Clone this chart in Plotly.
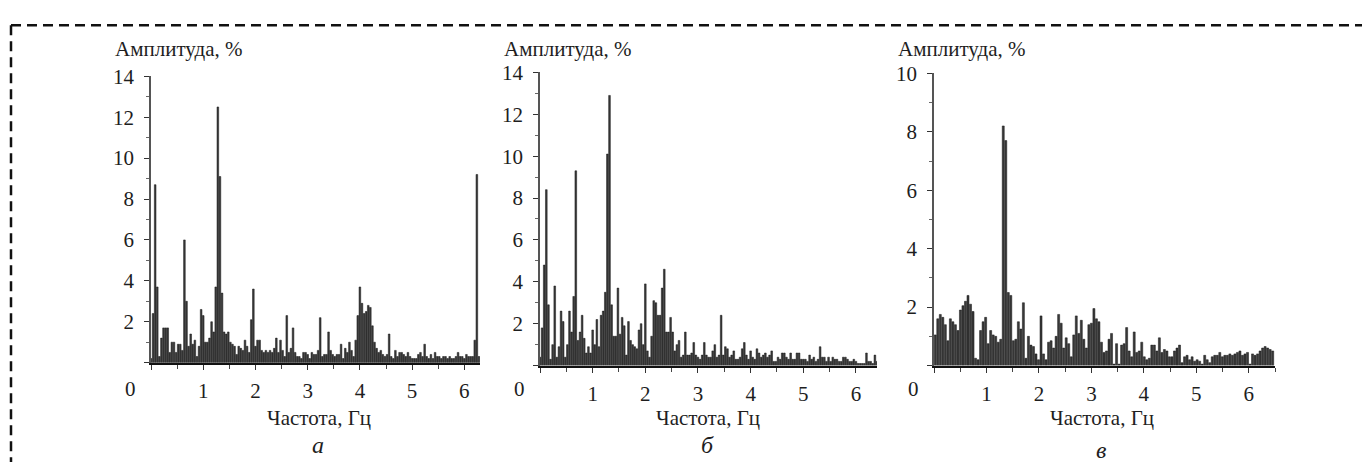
import plotly.graph_objects as go

W, H = 1362, 462

# ---------------- data ----------------
step_a = 0.04
amp_a = [0.2, 2.4, 8.7, 3.7, 0.3, 1.2, 1.7, 1.7, 1.7, 0.5,
         1.0, 1.0, 0.5, 0.9, 0.9, 0.6, 6.0, 3.0, 0.8, 1.4,
         0.9, 1.1, 0.3, 0.8, 2.6, 2.3, 1.0, 1.0, 1.2, 2.0,
         1.5, 3.7, 12.5, 9.1, 3.4, 1.5, 1.4, 1.5, 1.0, 0.9,
         0.8, 0.4, 0.8, 0.7, 0.6, 1.1, 0.8, 0.5, 2.1, 3.6,
         0.8, 1.1, 1.1, 0.6, 0.5, 0.6, 0.5, 0.6, 0.5, 0.7,
         1.2, 0.5, 1.1, 0.6, 0.3, 2.3, 0.5, 0.7, 1.7, 0.5,
         0.3, 0.3, 0.2, 0.5, 0.5, 0.4, 0.2, 0.5, 0.4, 0.4,
         0.6, 2.2, 0.3, 0.4, 0.4, 1.5, 0.6, 0.4, 0.3, 0.4,
         0.4, 0.9, 0.2, 0.7, 0.5, 1.0, 0.6, 0.3, 1.1, 2.3,
         3.7, 2.9, 2.4, 2.5, 2.8, 2.7, 1.8, 1.0, 0.7, 0.5,
         0.6, 0.4, 0.3, 0.4, 1.4, 0.3, 0.2, 0.6, 0.3, 0.5,
         0.5, 0.4, 0.3, 0.5, 0.3, 0.2, 0.2, 0.2, 0.4, 0.5,
         0.3, 0.9, 0.3, 0.2, 0.4, 0.2, 0.5, 0.3, 0.3, 0.2,
         0.3, 0.3, 0.2, 0.3, 0.2, 0.2, 0.3, 0.5, 0.3, 0.3,
         0.2, 0.4, 0.3, 0.3, 0.3, 1.1, 9.2, 0.3]

step_b = 0.04
amp_b = [0.4, 1.8, 4.8, 8.4, 2.9, 0.3, 1.0, 3.8, 0.4, 0.9,
         2.6, 2.1, 0.4, 1.0, 2.6, 1.6, 3.3, 9.3, 1.2, 1.6,
         2.4, 1.3, 0.6, 0.9, 0.6, 1.7, 1.0, 2.2, 0.9, 2.4,
         2.6, 3.5, 10.1, 12.9, 2.9, 1.4, 1.4, 3.7, 1.5, 2.3,
         1.9, 0.5, 2.1, 1.2, 1.0, 0.9, 0.8, 1.7, 2.0, 1.0,
         3.9, 0.7, 0.4, 1.4, 3.1, 3.0, 2.4, 2.4, 3.7, 4.6,
         1.6, 1.6, 2.3, 1.6, 0.7, 1.0, 1.2, 0.4, 0.5, 1.6,
         0.5, 0.5, 0.6, 1.1, 0.5, 0.4, 0.3, 0.5, 1.1, 0.5,
         0.4, 0.4, 0.7, 1.0, 0.4, 0.5, 2.4, 0.5, 0.9, 0.8,
         0.4, 0.5, 0.7, 0.3, 0.3, 0.4, 0.8, 1.1, 0.5, 0.3,
         0.7, 0.4, 0.3, 0.8, 0.6, 0.4, 0.5, 0.6, 0.4, 0.5,
         0.7, 0.2, 0.2, 0.4, 0.3, 0.6, 0.6, 0.4, 0.3, 0.6,
         0.3, 0.3, 0.6, 0.6, 0.3, 0.3, 0.3, 0.2, 0.5, 0.3,
         0.4, 0.2, 0.3, 0.9, 0.4, 0.4, 0.2, 0.4, 0.2, 0.4,
         0.3, 0.3, 0.2, 0.2, 0.4, 0.4, 0.3, 0.2, 0.2, 0.3,
         0.2, 0.1, 0.1, 0.1, 0.1, 0.6, 0.2, 0.2, 0.1, 0.5,
         0.2]

step_c = 0.048
amp_c = [1.05, 1.6, 1.75, 1.65, 1.4, 0.85, 1.6, 1.5, 1.4, 1.2,
         1.9, 2.05, 2.2, 2.4, 2.1, 1.85, 0.25, 0.2, 1.2, 1.5,
         1.65, 0.75, 1.2, 1.05, 1.0, 0.8, 0.9, 8.2, 7.7, 2.5,
         2.4, 0.85, 0.9, 1.5, 1.25, 2.15, 0.25, 1.0, 0.7, 0.65,
         0.4, 0.2, 1.7, 0.4, 0.2, 0.8, 0.85, 0.6, 1.0, 1.75,
         1.45, 0.6, 0.95, 0.75, 0.3, 1.05, 1.7, 1.1, 1.55, 0.9,
         0.6, 1.4, 1.45, 1.95, 1.6, 1.5, 0.8, 0.45, 0.5, 0.9,
         1.1, 0.05, 0.75, 0.05, 0.7, 0.75, 1.3, 0.5, 0.3, 1.15,
         0.45, 0.5, 0.8, 0.3, 0.2, 0.25, 0.7, 0.7, 0.5, 0.95,
         0.45, 0.55, 0.5, 0.3, 0.3, 0.5, 0.6, 0.7, 0.1, 0.3,
         0.35, 0.2, 0.3, 0.15, 0.2, 0.15, 0.05, 0.35, 0.2, 0.1,
         0.3, 0.35, 0.35, 0.45, 0.3, 0.35, 0.35, 0.4, 0.35, 0.4,
         0.45, 0.5, 0.35, 0.4, 0.45, 0.05, 0.4, 0.35, 0.4, 0.5,
         0.6, 0.65, 0.6, 0.55, 0.5]

freq_a = [i * step_a for i in range(len(amp_a))]
freq_b = [i * step_b for i in range(len(amp_b))]
freq_c = [(i + 0.5) * step_c for i in range(len(amp_c))]

x_ticks = [0, 1, 2, 3, 4, 5, 6]
y_title = "Амплитуда, %"
x_title = "Частота, Гц"
letters = ["а", "б", "в"]

# ---------------- layout geometry (pixels) ----------------
panels = [
    dict(x0=151, x1=480, ytop=66, ybot=360, xmax=6.3, ymax=14, ymaj=2,
         freq=freq_a, amp=amp_a, step=step_a, letter_y=445),
    dict(x0=540, x1=877, ytop=62, ybot=363, xmax=6.4, ymax=14, ymaj=2,
         freq=freq_b, amp=amp_b, step=step_b, letter_y=445),
    dict(x0=934, x1=1275, ytop=63, ybot=363, xmax=6.5, ymax=10, ymaj=2,
         freq=freq_c, amp=amp_c, step=step_c, letter_y=450),
]

SERIF = "Liberation Serif"
TXT = "#1e1e1e"
TICK_SIZE = 21
TITLE_SIZE = 21

fig = go.Figure()
annotations = []
for k, p in enumerate(panels):
    sfx = "" if k == 0 else str(k + 1)
    fig.add_trace(go.Bar(
        x=p["freq"], y=p["amp"], width=p["step"] * 0.8,
        marker=dict(color="#3a3a3a", line=dict(color="#151515", width=0.5)),
        xaxis="x" + sfx, yaxis="y" + sfx, showlegend=False, hoverinfo="x+y"))

    yt = list(range(0, p["ymax"] + 1, p["ymaj"]))
    fig.layout["xaxis" + sfx] = dict(
        domain=[p["x0"] / W, p["x1"] / W], anchor="y" + sfx,
        range=[0, p["xmax"]], showgrid=False, zeroline=False,
        showline=True, linecolor="#111", linewidth=2,
        ticks="outside", ticklen=5, tickwidth=1.3, tickcolor="#333",
        tickvals=x_ticks, ticktext=[""] + [str(v) for v in x_ticks[1:]],
        ticklabelstandoff=3,
        minor=dict(dtick=0.5, tick0=0, ticks="outside", ticklen=4,
                   tickwidth=1.2, tickcolor="#444"),
        tickfont=dict(family=SERIF, size=TICK_SIZE, color=TXT), fixedrange=True)
    fig.layout["yaxis" + sfx] = dict(
        domain=[1 - p["ybot"] / H, 1 - p["ytop"] / H], anchor="x" + sfx,
        range=[0, p["ymax"]], showgrid=False, zeroline=False,
        showline=True, linecolor="#555", linewidth=1.5,
        ticks="outside", ticklen=5, tickwidth=1.3, tickcolor="#333",
        tickvals=yt, ticktext=[""] + [str(v) for v in yt[1:]],
        ticklabelstandoff=6,
        minor=dict(dtick=1, tick0=0, ticks="outside", ticklen=3,
                   tickwidth=1, tickcolor="#666"),
        tickfont=dict(family=SERIF, size=TICK_SIZE, color=TXT), fixedrange=True)

    # origin "0" label
    annotations.append(dict(x=(p["x0"] - 21) / W, y=1 - 387 / H, xref="paper", yref="paper",
                            text="0", showarrow=False, xanchor="center", yanchor="middle",
                            font=dict(family=SERIF, size=TICK_SIZE, color=TXT)))
    # y title
    annotations.append(dict(x=(p["x0"] - 38) / W, y=1 - 38 / H, xref="paper", yref="paper",
                            text=y_title, showarrow=False, xanchor="left", yanchor="middle",
                            font=dict(family=SERIF, size=TITLE_SIZE, color=TXT)))
    # x title
    annotations.append(dict(x=(p["x0"] + 168) / W, y=1 - 417 / H, xref="paper", yref="paper",
                            text=x_title, showarrow=False, xanchor="center", yanchor="middle",
                            font=dict(family=SERIF, size=TITLE_SIZE, color=TXT)))
    # panel letter
    annotations.append(dict(x=(p["x0"] + 167) / W, y=1 - p["letter_y"] / H, xref="paper",
                            yref="paper", text="<i>" + letters[k] + "</i>", showarrow=False,
                            xanchor="center", yanchor="middle",
                            font=dict(family=SERIF, size=24, color=TXT)))

shapes = [
    dict(type="line", xref="paper", yref="paper", x0=11 / W, x1=1.0,
         y0=1 - 13.5 / H, y1=1 - 13.5 / H,
         line=dict(color="#111", width=2.5, dash="10px,6px")),
    dict(type="line", xref="paper", yref="paper", x0=11 / W, x1=11 / W,
         y0=1 - 13.5 / H, y1=0,
         line=dict(color="#111", width=2.5, dash="10px,6px")),
]

fig.update_layout(
    width=W, height=H, margin=dict(l=0, r=0, t=0, b=0),
    paper_bgcolor="white", plot_bgcolor="white",
    font=dict(family=SERIF, color=TXT),
    bargap=0.15, annotations=annotations, shapes=shapes,
    showlegend=False)

fig.write_html("out.html", config={"displayModeBar": False})
